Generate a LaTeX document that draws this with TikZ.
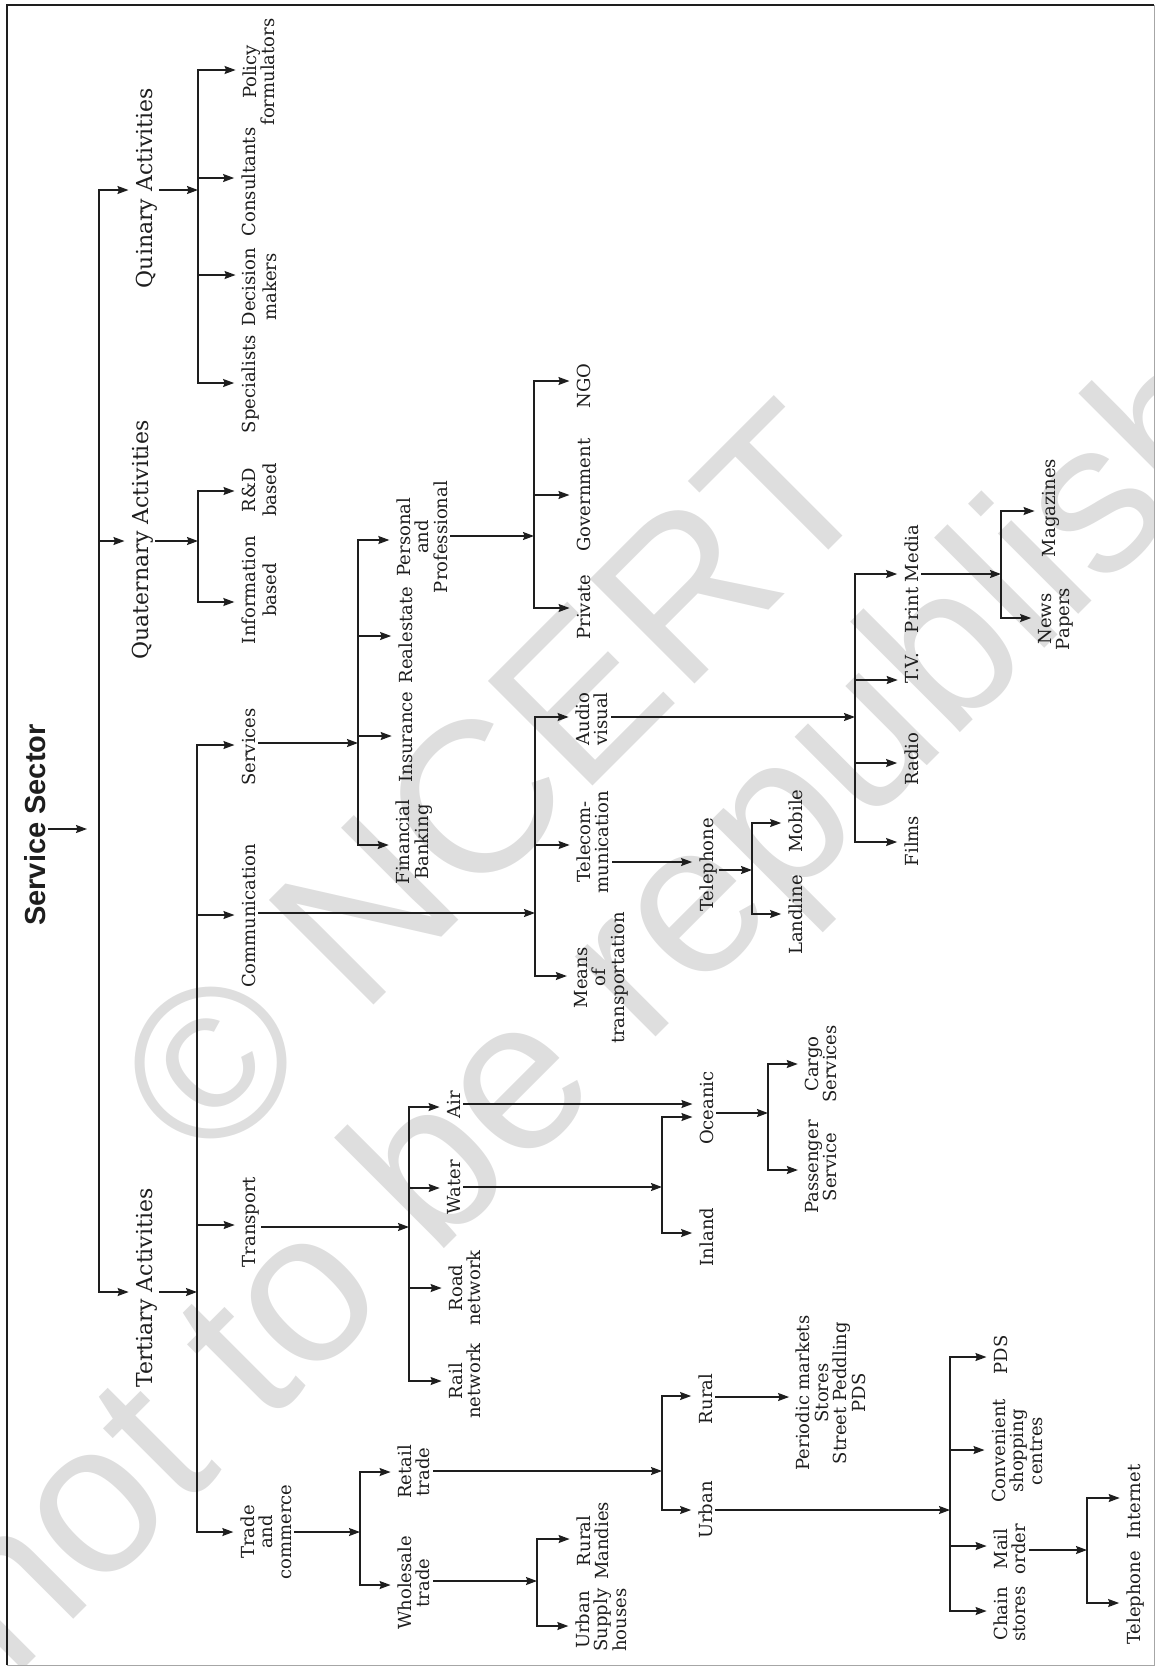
\documentclass[tikz,border=0pt]{standalone}
\usepackage{fontspec}
\setmainfont{DejaVu Serif}
\newfontfamily\sssans{Liberation Sans}
\usetikzlibrary{arrows.meta}
\definecolor{ink}{HTML}{1E1E1E}
\newcommand{\bodyf}{\fontsize{18}{18.5}\selectfont}
\newcommand{\bodyw}{\fontsize{18}{21}\selectfont}
\newcommand{\headf}{\fontsize{22}{24}\selectfont}
\newcommand{\wmfont}{\sssans\fontsize{215}{215}\selectfont}
\newcommand{\brto}[2]{\draw[arrn] (#1) -- (#1 -| #2.north);}
\tikzset{
  lbl/.style={rotate=90, anchor=base, font=\bodyf, text=ink, inner sep=3pt},
  lbl2/.style={rotate=90, anchor=center, align=center, font=\bodyf, text=ink, inner sep=3pt},
  lblw/.style={lbl2, font=\bodyw},
  head/.style={rotate=90, anchor=base, font=\headf, text=ink, inner sep=3pt},
  ln/.style={draw=ink, line width=1.3pt, line cap=rect},
  arr/.style={ln, -{Stealth[length=11pt,width=8pt,inset=1.5pt]}},
  arrn/.style={arr, shorten >=4pt},
  wm/.style={rotate=45, anchor=base west, font=\wmfont, text=black!13, inner sep=0pt}
}
\begin{document}
\begin{tikzpicture}[x=1pt,y=-1pt]
\useasboundingbox (0,0) rectangle (1155,1666);
\clip (0,0) rectangle (1155,1666);
% watermark
\node[wm] (wm1) at (207,1172) {© NCERT};
\node[wm] (wm2) at (12,1681) {not to be republished};
% frame
\draw[ink, line width=2pt] (1154,5) -- (7,5) -- (7,1665);
\draw[black!35, line width=1pt] (7,1665) -- (1154,1665) -- (1154,5);

% ---------- nodes ----------
\node[head, font=\sssans\bfseries\fontsize{29}{30}\selectfont] (ssec) at (45,825) {Service Sector};
\node[head] (quin) at (152,188) {Quinary Activities};
\node[head] (quat) at (148,540) {Quaternary Activities};
\node[head] (tert) at (152,1288) {Tertiary Activities};

\node[lbl2] (policy) at (259,72) {Policy\\formulators};
\node[lbl] (consult) at (255,182) {Consultants};
\node[lblw] (decision) at (260,287) {Decision\\makers};
\node[lbl] (special) at (255,384) {Specialists};

\node[lblw] (rnd) at (259,490) {R\&D\\based};
\node[lblw] (info) at (259,590) {Information\\based};

\node[lbl] (services) at (255,747) {Services};
\node[lbl] (comm) at (255,916) {Communication};
\node[lbl] (transport) at (255,1222) {Transport};
\node[lbl2] (trade) at (266,1532) {Trade\\and\\commerce};

\node[lbl2] (pers) at (422,537) {Personal\\and\\Professional};
\node[lbl] (realestate) at (412,635) {Realestate};
\node[lbl] (insurance) at (412,737) {Insurance};
\node[lbl2] (finance) at (414,842) {Financial\\Banking};

\node[lbl] (ngo) at (590,386) {NGO};
\node[lbl] (govt) at (590,495) {Government};
\node[lbl] (private) at (590,607) {Private};

\node[lbl2] (av) at (592,719) {Audio\\visual};
\node[lbl2] (telecom) at (593,842) {Telecom-\\munication};
\node[lbl2] (means) at (601,978) {Means\\of\\transportation};

\node[lbl] (telephone1) at (713,865) {Telephone};
\node[lbl] (mobile) at (802,821) {Mobile};
\node[lbl] (landline) at (802,915) {Landline};

\node[lbl] (printm) at (918,579) {Print Media};
\node[lbl] (tv) at (918,668) {T.V.};
\node[lbl] (radio) at (918,759) {Radio};
\node[lbl] (films) at (918,841) {Films};
\node[lbl] (magazines) at (1055,508) {Magazines};
\node[lbl2] (news) at (1056,619) {News\\Papers};

\node[lbl] (air) at (460,1105) {Air};
\node[lbl] (water) at (460,1187) {Water};
\node[lbl2] (road) at (465,1288) {Road\\network};
\node[lbl2] (rail) at (465,1381) {Rail\\network};
\node[lbl] (oceanic) at (713,1108) {Oceanic};
\node[lbl] (inland) at (713,1237) {Inland};
\node[lbl2] (cargo) at (821,1064) {Cargo\\Services};
\node[lbl2] (passenger) at (821,1167) {Passenger\\Service};

\node[lbl2] (retail) at (414,1472) {Retail\\trade};
\node[lbl2] (wholesale) at (414,1583) {Wholesale\\trade};
\node[lbl] (rural) at (712,1399) {Rural};
\node[lbl] (urban) at (712,1510) {Urban};
\node[lbl2] (periodic) at (831,1393) {Periodic markets\\Stores\\Street Peddling\\PDS};
\node[lbl] (pds) at (1007,1355) {PDS};
\node[lbl2] (convenient) at (1017,1451) {Convenient\\shopping\\centres};
\node[lbl2] (mail) at (1010,1549) {Mail\\order};
\node[lbl2] (chain) at (1010,1614) {Chain\\stores};
\node[lbl] (internet) at (1140,1502) {Internet};
\node[lbl] (telephone2) at (1140,1598) {Telephone};
\node[lbl2] (mandies) at (593,1541) {Rural\\Mandies};
\node[lbl2] (supply) at (601,1620) {Urban\\Supply\\houses};

% ---------- junction coordinates ----------
\coordinate (L1q) at (99,190);
\coordinate (L1r) at (99,541);
\coordinate (L1t) at (99,1292);
\coordinate (ssTip) at (87,829);

\coordinate (qIn) at (198,190);
\coordinate (qPol) at (198,70);
\coordinate (qCon) at (198,178);
\coordinate (qDec) at (198,275);
\coordinate (qSpe) at (198,383);

\coordinate (rIn) at (198,541);
\coordinate (rRnd) at (198,491);
\coordinate (rInf) at (198,602);

\coordinate (tIn) at (197,1292);
\coordinate (tSer) at (197,745);
\coordinate (tCom) at (197,915);
\coordinate (tTra) at (197,1225);
\coordinate (tTrd) at (197,1532);

\coordinate (sIn) at (358,743);
\coordinate (sPer) at (358,540);
\coordinate (sRea) at (358,636);
\coordinate (sIns) at (358,736);
\coordinate (sFin) at (358,845);

\coordinate (pIn) at (534,536);
\coordinate (pNgo) at (534,381);
\coordinate (pGov) at (534,495);
\coordinate (pPri) at (534,608);

\coordinate (cIn) at (535,913);
\coordinate (cAv) at (535,717);
\coordinate (cTel) at (535,845);
\coordinate (cMea) at (535,976);
\coordinate (tcY) at (650,862);

\coordinate (phIn) at (752,870);
\coordinate (phMob) at (752,823);
\coordinate (phLan) at (752,914);

\coordinate (avIn) at (855,717);
\coordinate (avPri) at (855,574);
\coordinate (avTv) at (855,680);
\coordinate (avRad) at (855,763);
\coordinate (avFil) at (855,842);

\coordinate (prIn) at (1001,574);
\coordinate (prMag) at (1001,511);
\coordinate (prNews) at (1001,618);

\coordinate (trIn) at (409,1227);
\coordinate (trAir) at (409,1107);
\coordinate (trWat) at (409,1188);
\coordinate (trRoa) at (409,1288);
\coordinate (trRai) at (409,1381);
\coordinate (aoY) at (600,1104);

\coordinate (wIn) at (662,1187);
\coordinate (wOce) at (662,1117);
\coordinate (wInl) at (662,1233);

\coordinate (oIn) at (768,1113);
\coordinate (oCar) at (768,1064);
\coordinate (oPas) at (768,1170);

\coordinate (tdIn) at (360,1532);
\coordinate (tdRet) at (360,1472);
\coordinate (tdWho) at (360,1585);

\coordinate (reIn) at (662,1471);
\coordinate (reRur) at (662,1396);
\coordinate (reUrb) at (662,1510);
\coordinate (rpY) at (750,1397);

\coordinate (uIn) at (950,1510);
\coordinate (uPds) at (950,1357);
\coordinate (uCon) at (950,1450);
\coordinate (uMai) at (950,1546);
\coordinate (uCha) at (950,1611);

\coordinate (mIn) at (1087,1550);
\coordinate (mInt) at (1087,1498);
\coordinate (mTel) at (1087,1603);

\coordinate (whIn) at (537,1581);
\coordinate (whMan) at (537,1539);
\coordinate (whSup) at (537,1626);

% ---------- connectors ----------
\draw[ln] (L1q) -- (L1t);
\draw[arr] (ssTip -| ssec.south) -- (ssTip);
\brto{L1q}{quin}
\brto{L1r}{quat}
\brto{L1t}{tert}

\draw[arr] (qIn -| quin.south) -- (qIn);
\draw[ln] (qPol) -- (qSpe);
\brto{qPol}{policy}
\brto{qCon}{consult}
\brto{qDec}{decision}
\brto{qSpe}{special}

\draw[arr] (rIn -| quat.south) -- (rIn);
\draw[ln] (rRnd) -- (rInf);
\brto{rRnd}{rnd}
\brto{rInf}{info}

\draw[arr] (tIn -| tert.south) -- (tIn);
\draw[ln] (tSer) -- (tTrd);
\brto{tSer}{services}
\brto{tCom}{comm}
\brto{tTra}{transport}
\brto{tTrd}{trade}

\draw[arr] (sIn -| services.south) -- (sIn);
\draw[ln] (sPer) -- (sFin);
\brto{sPer}{pers}
\brto{sRea}{realestate}
\brto{sIns}{insurance}
\brto{sFin}{finance}

\draw[arr] (pIn -| pers.south) -- (pIn);
\draw[ln] (pNgo) -- (pPri);
\brto{pNgo}{ngo}
\brto{pGov}{govt}
\brto{pPri}{private}

\draw[arr] (cIn -| comm.south) -- (cIn);
\draw[ln] (cAv) -- (cMea);
\brto{cAv}{av}
\brto{cTel}{telecom}
\brto{cMea}{means}
\draw[arrn] (tcY -| telecom.south) -- (tcY -| telephone1.north);

\draw[arr] (phIn -| telephone1.south) -- (phIn);
\draw[ln] (phMob) -- (phLan);
\brto{phMob}{mobile}
\brto{phLan}{landline}

\draw[arr] (avIn -| av.south) -- (avIn);
\draw[ln] (avPri) -- (avFil);
\brto{avPri}{printm}
\brto{avTv}{tv}
\brto{avRad}{radio}
\brto{avFil}{films}

\draw[arr] (prIn -| printm.south) -- (prIn);
\draw[ln] (prMag) -- (prNews);
\brto{prMag}{magazines}
\brto{prNews}{news}

\draw[arr] (trIn -| transport.south) -- (trIn);
\draw[ln] (trAir) -- (trRai);
\brto{trAir}{air}
\brto{trWat}{water}
\brto{trRoa}{road}
\brto{trRai}{rail}
\draw[arrn] (aoY -| air.south) -- (aoY -| oceanic.north);

\draw[arr] (wIn -| water.south) -- (wIn);
\draw[ln] (wOce) -- (wInl);
\brto{wOce}{oceanic}
\brto{wInl}{inland}

\draw[arr] (oIn -| oceanic.south) -- (oIn);
\draw[ln] (oCar) -- (oPas);
\brto{oCar}{cargo}
\brto{oPas}{passenger}

\draw[arr] (tdIn -| trade.south) -- (tdIn);
\draw[ln] (tdRet) -- (tdWho);
\brto{tdRet}{retail}
\brto{tdWho}{wholesale}

\draw[arr] (reIn -| retail.south) -- (reIn);
\draw[ln] (reRur) -- (reUrb);
\brto{reRur}{rural}
\brto{reUrb}{urban}
\draw[arrn] (rpY -| rural.south) -- (rpY -| periodic.north);

\draw[arr] (uIn -| urban.south) -- (uIn);
\draw[ln] (uPds) -- (uCha);
\brto{uPds}{pds}
\brto{uCon}{convenient}
\brto{uMai}{mail}
\brto{uCha}{chain}

\draw[arr] (mIn -| mail.south) -- (mIn);
\draw[ln] (mInt) -- (mTel);
\brto{mInt}{internet}
\brto{mTel}{telephone2}

\draw[arr] (whIn -| wholesale.south) -- (whIn);
\draw[ln] (whMan) -- (whSup);
\brto{whMan}{mandies}
\brto{whSup}{supply}
\end{tikzpicture}
\end{document}
